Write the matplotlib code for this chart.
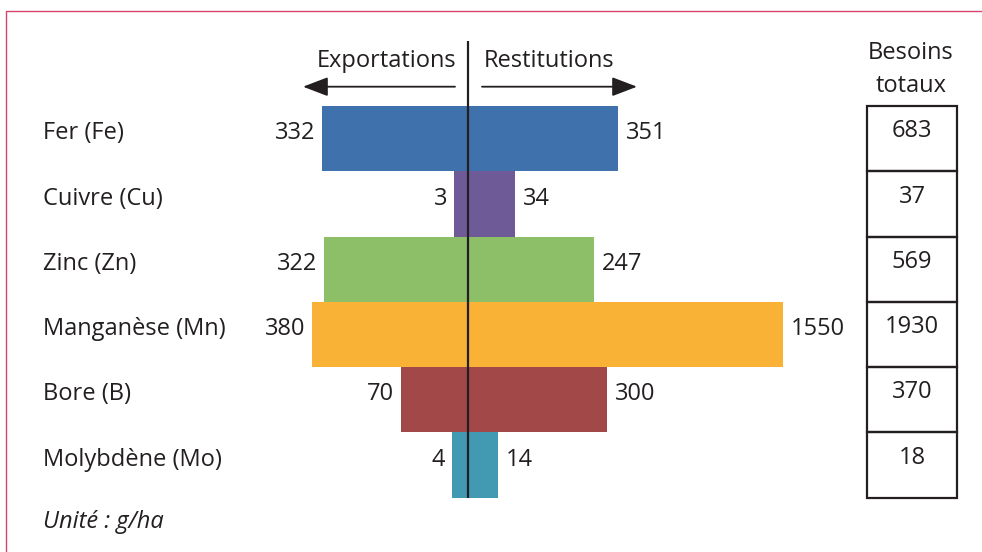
"""
Oligo-éléments : exportations / restitutions / besoins totaux (g/ha)
"""
import numpy as np
import matplotlib
matplotlib.use('Agg')
import matplotlib.pyplot as plt
import matplotlib.transforms as mtransforms
from matplotlib.patches import Rectangle, FancyArrowPatch
from matplotlib.lines import Line2D

plt.rcParams['font.family'] = ['Open Sans', 'DejaVu Sans']

# données (g/ha)
elements = ['Fer (Fe)', 'Cuivre (Cu)', 'Zinc (Zn)', 'Manganèse (Mn)', 'Bore (B)', 'Molybdène (Mo)']
exportations = [332, 3, 322, 380, 70, 4]
restitutions = [351, 34, 247, 1550, 300, 14]
besoins = [683, 37, 569, 1930, 370, 18]
couleurs = ['#3f71ac', '#6e5a96', '#8dbe68', '#f9b136', '#a24849', '#419ab2']

W, H = 982, 552
TXT = '#231f20'
FS = 17


def fx(px):
    return px / W


def fy(py):
    return 1 - py / H


# échelle racine carrée symétrique (les barres de la figure ne sont pas linéaires)
def fwd(x):
    x = np.asarray(x, dtype=float)
    return np.sign(x) * np.sqrt(np.abs(x))


def inv(x):
    x = np.asarray(x, dtype=float)
    return np.sign(x) * x ** 2


fig = plt.figure(figsize=(W / 100, H / 100), dpi=100)

# axe principal : toute la largeur, hauteur des barres
y_top, y_bot = 106, 497.7
ax = fig.add_axes([0, fy(y_bot), 1, (y_bot - y_top) / H])
ax.set_xscale('function', functions=(fwd, inv))
px_per_unit = 8.0
x0 = 468
ax.set_xlim(-((x0 / px_per_unit) ** 2), ((W - x0) / px_per_unit) ** 2)
ax.set_ylim(len(elements) - 0.5, -0.5)
ax.axis('off')

y = np.arange(len(elements))
ax.barh(y, [-v for v in exportations], height=1.0, color=couleurs, linewidth=0)
ax.barh(y, restitutions, height=1.0, color=couleurs, linewidth=0)

# ligne centrale
ax.plot([0, 0], [-1.5, 5.5], color=TXT, lw=1.6, clip_on=False, solid_capstyle='butt')

lab_tr = mtransforms.blended_transform_factory(fig.transFigure, ax.transData)
for i, nom in enumerate(elements):
    ax.text(fx(43), i + 0.01, nom, transform=lab_tr, ha='left', va='baseline',
            fontsize=FS, color=TXT)
    ax.annotate(str(exportations[i]), xy=(-exportations[i], i + 0.01),
                xytext=(-5, 0), textcoords='offset points',
                ha='right', va='baseline', fontsize=FS, color=TXT)
    ax.annotate(str(restitutions[i]), xy=(restitutions[i], i + 0.01),
                xytext=(6, 0), textcoords='offset points',
                ha='left', va='baseline', fontsize=FS, color=TXT)

# colonne des besoins totaux
axb = fig.add_axes([fx(867), fy(y_bot), fx(957) - fx(867), (y_bot - y_top) / H])
axb.set_xlim(0, 1)
axb.set_ylim(len(elements) - 0.5, -0.5)
axb.axis('off')
for i, v in enumerate(besoins):
    axb.add_patch(Rectangle((0, i - 0.5), 1, 1, fill=False, edgecolor=TXT,
                            lw=1.6, clip_on=False))
    axb.text(0.5, i - 0.02, str(v), ha='center', va='baseline', fontsize=FS, color=TXT)

# en-têtes
fig.text(fx(456), fy(66.7), 'Exportations', ha='right', va='baseline', fontsize=FS, color=TXT)
fig.text(fx(484), fy(66.7), 'Restitutions', ha='left', va='baseline', fontsize=FS, color=TXT)
fig.text(fx(911), fy(59), 'Besoins', ha='center', va='baseline', fontsize=FS, color=TXT)
fig.text(fx(911), fy(91.5), 'totaux', ha='center', va='baseline', fontsize=FS, color=TXT)

fleche = dict(arrowstyle='-|>,head_length=1.1,head_width=0.42', color=TXT, lw=1.3,
              shrinkA=0, shrinkB=0, mutation_scale=14, transform=fig.transFigure)
fig.add_artist(FancyArrowPatch((fx(455), fy(86.7)), (fx(303), fy(86.7)), **fleche))
fig.add_artist(FancyArrowPatch((fx(482), fy(86.7)), (fx(637), fy(86.7)), **fleche))

fig.text(fx(43), fy(528.3), 'Unité : g/ha', ha='left', va='baseline', fontsize=FS,
         style='italic', color=TXT)

# cadre
fig.add_artist(Line2D([fx(5.5), fx(5.5), 1], [0, fy(11), fy(11)],
                      transform=fig.transFigure, color='#d8436c', lw=1.0))

fig.savefig('out.png', dpi=100)
